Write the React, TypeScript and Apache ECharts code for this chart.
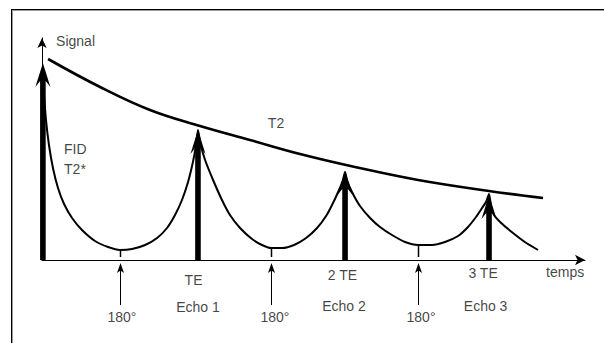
import React, { useEffect, useRef } from "react";
import * as echarts from "echarts";

// Time axis in arbitrary units (TE ≈ 100), signal in % of the FID amplitude.
const signalX = [
  0.7, 1.4, 2.7, 4.7, 7.4, 10.8, 14.9, 20.3, 27.0, 35.8, 44.6, 52.7, 60.8, 69.6, 77.7, 84.4, 89.8, 94.5, 98.6, 101.9, 104.0, 105.3,
  107.0, 110.1, 115.5, 121.5, 126.9, 133.7, 141.8, 148.5, 154.6, 162.1, 170.2, 178.3, 185.7, 191.8, 196.5, 200.5, 203.2, 204.6,
  205.9, 209.3, 214.7, 221.5, 228.2, 236.3, 245.1, 253.9, 263.3, 272.1, 280.9, 287.6, 293.0, 297.1, 299.8, 301.8,
  303.2, 305.2, 310.0, 318.0, 326.0, 334.9,
];
const signalY = [
  95, 82.5, 70, 57.5, 46, 36, 28, 21, 15, 9.5, 6.5, 5, 5.5, 7.5, 11, 16, 22.5, 30, 39, 49, 57.5, 65,
  58, 50, 40, 30, 22.5, 16, 10.5, 7.5, 6, 6, 7.5, 11, 16, 22, 28.5, 35, 40, 44,
  40, 34, 27, 21, 16.5, 12.5, 9, 7.5, 7.5, 9, 12, 16.5, 21.5, 26, 29, 33,
  27, 22.5, 18.5, 13.5, 9, 5,
];
const t2X = [4.1, 39.2, 72.9, 106.7, 140.4, 174.2, 211.3, 253.9, 301.8, 338.3];
const t2Y = [100.5, 86.5, 75, 67, 60, 53, 46.5, 40, 34.5, 31];

const pulseNames = ["FID", "Echo 1", "Echo 2", "Echo 3"];
const pulseX = [0.6, 105.3, 204.6, 301.8];
const pulsePeak = [98.5, 65, 44.5, 32.5];

const refocusX = [52.7, 154.6, 253.9];
const refocusMin = [5, 6.5, 7.5];

const labelTexts = ["Signal", "FID", "T2*", "T2", "TE", "Echo 1", "180°", "180°", "2 TE", "Echo 2", "180°", "3 TE", "Echo 3", "temps"];
const labelX = [9.5, 14.9, 14.9, 158, 102.3, 105.3, 54, 157.3, 202.9, 203.9, 255.9, 297.8, 299.5, 340.3];
const labelY = [109.5, 55.5, 45.5, 68.5, -10, -23.5, -28.5, -28.5, -7.5, -23, -28.5, -6.5, -23, -6];
const labelAlign = ["left", "left", "left", "center", "center", "center", "center", "center", "center", "center", "center", "center", "center", "left"];

export default function App() {
  const ref = useRef<HTMLDivElement>(null);
  useEffect(() => {
    if (!ref.current) return;
    const chart = echarts.init(ref.current, undefined, { renderer: "svg" });
    const font = "'Liberation Sans', Arial, sans-serif";
    chart.setOption({
      animation: false,
      backgroundColor: "#fff",
      grid: { left: 42, top: 38, width: 543, height: 222 },
      xAxis: {
        type: "value",
        min: 0,
        max: 366.6,
        axisLine: { show: true, onZero: true, symbol: ["none", "arrow"], symbolSize: [8, 10], lineStyle: { color: "#000", width: 1 } },
        axisTick: { show: false },
        axisLabel: { show: false },
        splitLine: { show: false },
      },
      yAxis: {
        type: "value",
        min: 0,
        max: 111,
        axisLine: { show: true, symbol: ["none", "arrow"], symbolSize: [7, 10], lineStyle: { color: "#000", width: 1 } },
        axisTick: { show: false },
        axisLabel: { show: false },
        splitLine: { show: false },
      },
      graphic: [
        { type: "line", shape: { x1: 11.5, y1: 9, x2: 11.5, y2: 343 }, style: { stroke: "#000", lineWidth: 1 } },
        { type: "line", shape: { x1: 12.5, y1: 10, x2: 12.5, y2: 343 }, style: { stroke: "#999", lineWidth: 1 } },
        { type: "line", shape: { x1: 11, y1: 9.5, x2: 604, y2: 9.5 }, style: { stroke: "#000", lineWidth: 1 } },
        { type: "line", shape: { x1: 12, y1: 10.5, x2: 604, y2: 10.5 }, style: { stroke: "#999", lineWidth: 1 } },
      ],
      series: [
        {
          name: "Signal",
          type: "line",
          data: signalX.map((x, i) => [x, signalY[i]]),
          smooth: 0.2,
          symbol: "none",
          lineStyle: { color: "#000", width: 2 },
          z: 2,
        },
        {
          name: "T2",
          type: "line",
          data: t2X.map((x, i) => [x, t2Y[i]]),
          smooth: 0.4,
          symbol: "none",
          lineStyle: { color: "#000", width: 2.6 },
          z: 2,
        },
        {
          name: "Echoes",
          type: "custom",
          z: 4,
          data: pulseX.map((x, i) => ({ name: pulseNames[i], value: [x, pulsePeak[i]] })),
          encode: { x: 0, y: 1 },
          renderItem: (params: any, api: any) => {
            const x = api.value(0);
            const peak = api.value(1);
            const base = api.coord([x, 0]);
            const tip = api.coord([x, peak]);
            const hw = 2.8, headW = 7.5, headL = 24, notch = 18;
            const cx = tip[0];
            return {
              type: "polygon",
              shape: {
                points: [
                  [cx, tip[1]],
                  [cx + headW, tip[1] + headL],
                  [cx + hw, tip[1] + notch],
                  [cx + hw, base[1]],
                  [cx - hw, base[1]],
                  [cx - hw, tip[1] + notch],
                  [cx - headW, tip[1] + headL],
                ],
              },
              style: { fill: "#000" },
            };
          },
        },
        {
          name: "180°",
          type: "custom",
          z: 3,
          clip: false,
          data: refocusX.map((x, i) => [x, refocusMin[i]]),
          encode: { x: 0, y: 1 },
          renderItem: (params: any, api: any) => {
            const x = api.value(0);
            const m = api.value(1);
            const top = api.coord([x, m]);
            const tickEnd = api.coord([x, 1.5]);
            const tip = api.coord([x, -1.5]);
            const bottom = api.coord([x, -22.5]);
            const cx = Math.round(top[0]) + 0.5;
            return {
              type: "group",
              children: [
                { type: "line", shape: { x1: cx, y1: top[1], x2: cx, y2: tickEnd[1] }, style: { stroke: "#000", lineWidth: 1.5 } },
                { type: "line", shape: { x1: cx, y1: tip[1] + 6, x2: cx, y2: bottom[1] }, style: { stroke: "#000", lineWidth: 1 } },
                {
                  type: "polygon",
                  shape: { points: [[cx, tip[1]], [cx + 3.5, tip[1] + 10], [cx, tip[1] + 7.5], [cx - 3.5, tip[1] + 10]] },
                  style: { fill: "#000" },
                },
              ],
            };
          },
        },
        {
          name: "labels",
          type: "scatter",
          symbolSize: 0,
          clip: false,
          silent: true,
          z: 5,
          data: labelTexts.map((t, i) => ({
            name: t,
            value: [labelX[i], labelY[i]],
            label: { align: labelAlign[i] },
          })),
          label: {
            show: true,
            position: "inside",
            formatter: "{b}",
            fontSize: 14,
            fontFamily: font,
            color: "#111",
            verticalAlign: "middle",
          },
        },
      ],
    });
    return () => chart.dispose();
  }, []);
  return <div ref={ref} style={{ position: "absolute", left: 0, top: 0, width: 604, height: 343, background: "#fff" }} />;
}
